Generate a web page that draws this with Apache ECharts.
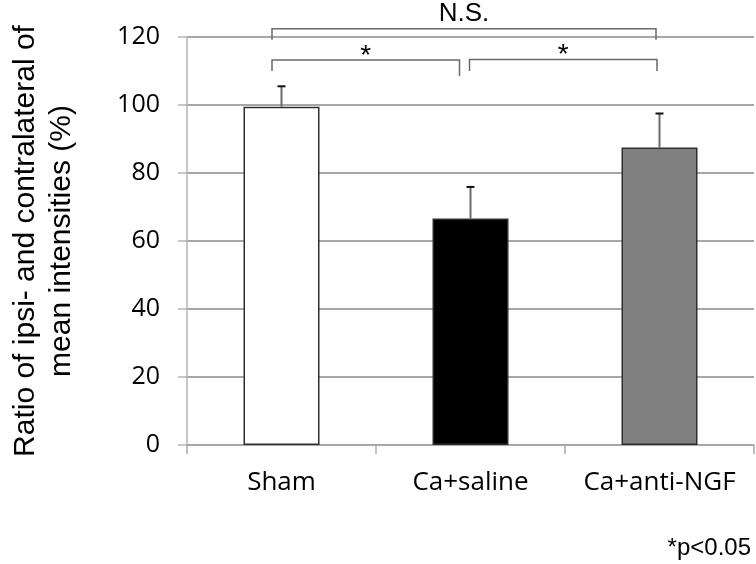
<!DOCTYPE html>
<html>
<head>
<meta charset="utf-8">
<script src="https://cdn.jsdelivr.net/npm/echarts@6/dist/echarts.min.js"></script>
<style>
html,body{margin:0;padding:0;background:#fff}
#main{width:756px;height:564px}
</style>
</head>
<body>
<div id="main"></div>
<script>
// 数据
var categories = ['Sham', 'Ca+saline', 'Ca+anti-NGF'];
var meanValues = [99.5, 66.6, 87.5];
var errValues = [6.0, 9.3, 10.0];
var barColors = ['#ffffff', '#000000', '#808080'];
var yTicks = [0, 20, 40, 60, 80, 100, 120];
// 显著性括号: [from, to, top, leftEnd, rightEnd]
var brackets = [
    [0, 2, 122.4, 119.2, 119.2],
    [0, 1, 113.2, 110.0, 108.5],
    [1, 2, 113.4, 110.0, 110.0]
];
var bracketLabels = ['N.S.', '*', '*'];

// 括号端点的像素偏移 (左, 右)
var bracketShift = [[-9.5, -3.5], [-9.5, -11], [-1, -2.5]];

var dom = document.getElementById('main');
var myChart = echarts.init(dom);

var barData = [];
var errData = [];
for (var i = 0; i < categories.length; i++) {
    barData.push({
        value: meanValues[i],
        itemStyle: { color: barColors[i], borderColor: '#2e2e2e', borderWidth: 1.5 }
    });
    errData.push([i, meanValues[i], meanValues[i] + errValues[i]]);
}
var bracketData = [];
for (var j = 0; j < brackets.length; j++) {
    bracketData.push([brackets[j][0], brackets[j][2]]);
}

var option = {
    animation: false,
    backgroundColor: '#fff',
    grid: { left: 182, right: 2, top: 37, bottom: 119 },
    xAxis: {
        type: 'category',
        data: categories,
        axisLine: { lineStyle: { color: '#a8a8a8', width: 1.5 } },
        axisTick: { show: true, length: 9, lineStyle: { color: '#a8a8a8', width: 1.5 } },
        axisLabel: { color: '#000', fontFamily: 'Open Sans', fontSize: 26, margin: 25, interval: 0, hideOverlap: false }
    },
    yAxis: {
        type: 'value',
        min: yTicks[0],
        max: yTicks[yTicks.length - 1],
        interval: yTicks[1] - yTicks[0],
        name: 'Ratio of ipsi- and contralateral of\nmean intensities (%)',
        nameLocation: 'middle',
        nameGap: 107,
        nameTextStyle: { color: '#000', fontFamily: 'Liberation Sans', fontSize: 30, lineHeight: 36 },
        axisLine: { show: true, lineStyle: { color: '#b5b5b5', width: 1.5 } },
        axisTick: { show: true, length: 9, lineStyle: { color: '#b5b5b5', width: 1.5 } },
        axisLabel: { color: '#000', fontFamily: 'Open Sans', fontSize: 25, margin: 27 },
        splitLine: { lineStyle: { color: '#8a8a8a', width: 1.5 } }
    },
    series: [
        {
            type: 'bar',
            barWidth: 76,
            data: barData,
            z: 2
        },
        {
            // 误差线
            type: 'custom',
            data: errData,
            z: 3,
            renderItem: function (params, api) {
                var p0 = api.coord([api.value(0), api.value(1)]);
                var p1 = api.coord([api.value(0), api.value(2)]);
                return {
                    type: 'group',
                    children: [
                        { type: 'line', shape: { x1: p0[0], y1: p0[1], x2: p1[0], y2: p1[1] },
                          style: { stroke: '#6a6a6a', lineWidth: 2 } },
                        { type: 'line', shape: { x1: p1[0] - 4, y1: p1[1], x2: p1[0] + 4, y2: p1[1] },
                          style: { stroke: '#111', lineWidth: 2 } }
                    ]
                };
            }
        },
        {
            // 显著性括号
            type: 'custom',
            data: bracketData,
            z: 4,
            clip: false,
            renderItem: function (params, api) {
                var b = brackets[params.dataIndex];
                var s = bracketShift[params.dataIndex];
                var x1 = api.coord([b[0], b[2]])[0] + s[0];
                var x2 = api.coord([b[1], b[2]])[0] + s[1];
                var yTop = api.coord([b[0], b[2]])[1];
                var yL = api.coord([b[0], b[3]])[1];
                var yR = api.coord([b[1], b[4]])[1];
                var label = bracketLabels[params.dataIndex];
                var isNS = label !== '*';
                return {
                    type: 'group',
                    children: [
                        { type: 'polyline', shape: { points: [[x1, yL], [x1, yTop], [x2, yTop], [x2, yR]] },
                          style: { stroke: '#6a6a6a', lineWidth: 1.5, fill: null } },
                        { type: 'text', x: (x1 + x2) / 2, y: isNS ? yTop - 15 : yTop - 4,
                          style: { text: label, fill: '#000', fontFamily: 'Liberation Sans',
                                   fontSize: isNS ? 26 : 28, align: 'center', verticalAlign: 'middle' } }
                    ]
                };
            }
        }
    ],
    graphic: [
        {
            type: 'text',
            right: 5,
            top: 536,
            style: { text: '*p<0.05', fill: '#000', fontFamily: 'Liberation Sans', fontSize: 24 }
        }
    ]
};

if (option && typeof option === "object") {
    myChart.setOption(option, true);
}
</script>
</body>
</html>
